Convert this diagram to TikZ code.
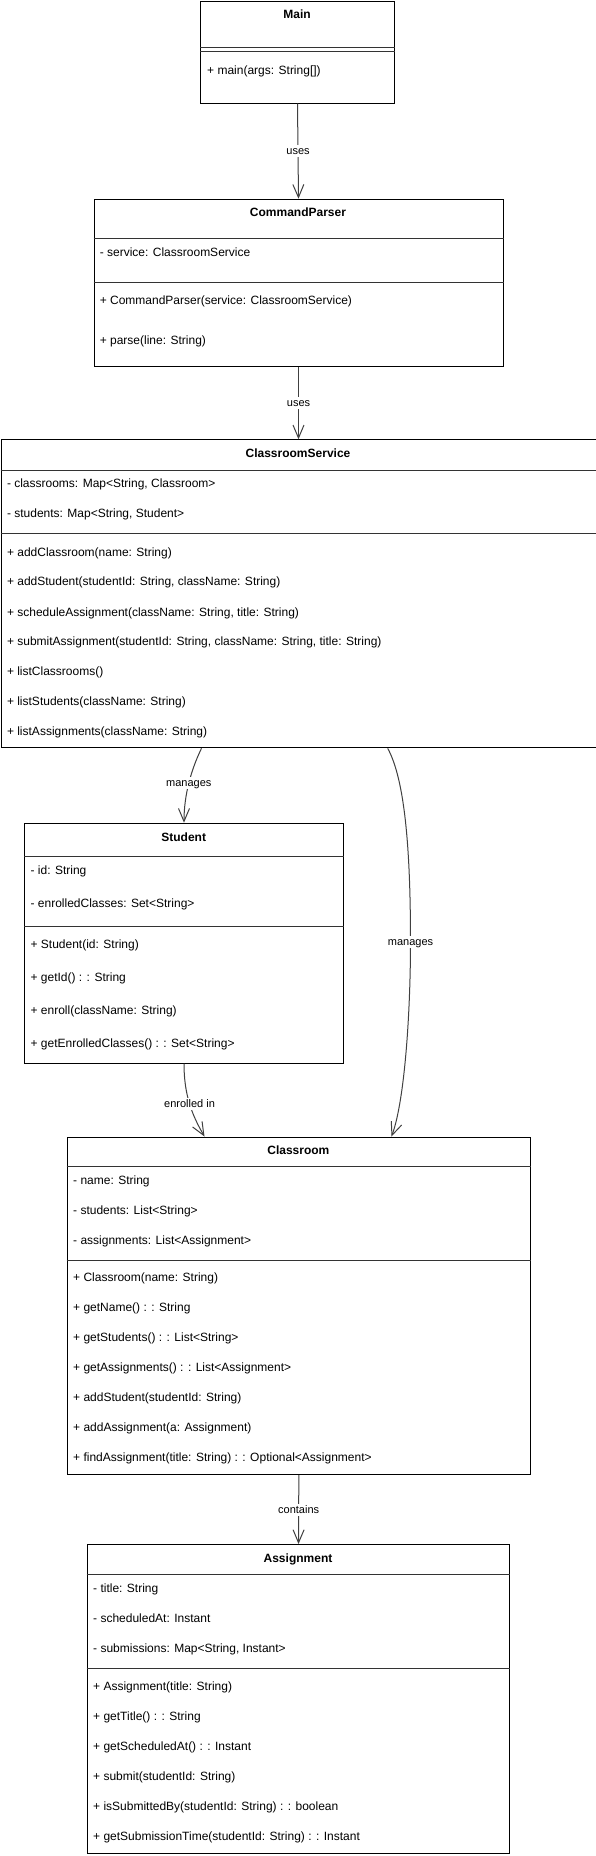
\documentclass[tikz,border=0pt]{standalone}
\usepackage{fontspec}
\setmainfont{Liberation Sans}
\usetikzlibrary{arrows.meta}
\tikzset{
  classbox/.style={draw=black, line width=1pt, fill=white, anchor=north west, inner sep=0pt},
  sepline/.style={draw=black!80, line width=1pt},
  row/.style={anchor=west, inner sep=0pt, text height=10pt, text depth=2pt, font=\fontsize{12}{14}\selectfont},
  ttl/.style={anchor=center, inner sep=0pt, text height=10pt, text depth=2pt, font=\fontsize{12}{14}\selectfont\bfseries},
  conn/.style={draw=black!75, line width=1pt, -{Straight Barb[length=13pt,width=11pt,line width=1pt]}},
  lbl/.style={fill=white, inner sep=1pt, text height=8.5pt, text depth=1.5pt, font=\fontsize{11}{13}\selectfont, text=black}
}
\begin{document}
\begin{tikzpicture}[x=1pt,y=-1pt]
\useasboundingbox (0,0) rectangle (596,1856);
\fill[white] (0,0) rectangle (596,1856);

% ---------- Main ----------
\node[classbox, minimum width=194pt, minimum height=102pt] (main) at (200,0.5) {};
\node[ttl] (mainT) at (297,14.7) {Main};
\draw[sepline] (main.west |- 0,47) -- (main.east |- 0,47);
\draw[sepline] (main.west |- 0,51) -- (main.east |- 0,51);
\node[row] (mainM1) at (207,70) {+ main(args: String[])};

% ---------- CommandParser ----------
\node[classbox, minimum width=409pt, minimum height=167.6pt] (cp) at (93.5,198.7) {};
\node[ttl] (cpT) at (298,212.3) {CommandParser};
\draw[sepline] (cp.west |- 0,238.3) -- (cp.east |- 0,238.3);
\node[row] (cpA1) at (99.6,252.7) {- service: ClassroomService};
\draw[sepline] (cp.west |- 0,282.3) -- (cp.east |- 0,282.3);
\node[row] (cpM1) at (99.6,300.7) {+ CommandParser(service: ClassroomService)};
\node[row] (cpM2) at (99.6,340.7) {+ parse(line: String)};

% ---------- ClassroomService ----------
\node[classbox, minimum width=595pt, minimum height=308pt] (cs) at (0.5,439.3) {};
\node[ttl] (csT) at (298,453.7) {ClassroomService};
\draw[sepline] (cs.west |- 0,470) -- (cs.east |- 0,470);
\node[row] (csA1) at (6.8,483.7) {- classrooms: Map<String, Classroom>};
\node[row] (csA2) at (6.8,513.7) {- students: Map<String, Student>};
\draw[sepline] (cs.west |- 0,533.7) -- (cs.east |- 0,533.7);
\node[row] (csM1) at (6.8,552) {+ addClassroom(name: String)};
\node[row] (csM2) at (6.8,581.7) {+ addStudent(studentId: String, className: String)};
\node[row] (csM3) at (6.8,612) {+ scheduleAssignment(className: String, title: String)};
\node[row] (csM4) at (6.8,641.7) {+ submitAssignment(studentId: String, className: String, title: String)};
\node[row] (csM5) at (6.8,671.7) {+ listClassrooms()};
\node[row] (csM6) at (6.8,701.7) {+ listStudents(className: String)};
\node[row] (csM7) at (6.8,731.7) {+ listAssignments(className: String)};

% ---------- Student ----------
\node[classbox, minimum width=318.9pt, minimum height=240pt] (stu) at (24.3,822.7) {};
\node[ttl] (stuT) at (183.7,837.7) {Student};
\draw[sepline] (stu.west |- 0,856.7) -- (stu.east |- 0,856.7);
\node[row] (stuA1) at (30.4,870.7) {- id: String};
\node[row] (stuA2) at (30.4,903.7) {- enrolledClasses: Set<String>};
\draw[sepline] (stu.west |- 0,926.7) -- (stu.east |- 0,926.7);
\node[row] (stuM1) at (30.4,944.3) {+ Student(id: String)};
\node[row] (stuM2) at (30.4,977.7) {+ getId() : : String};
\node[row] (stuM3) at (30.4,1010.7) {+ enroll(className: String)};
\node[row] (stuM4) at (30.4,1043.3) {+ getEnrolledClasses() : : Set<String>};

% ---------- Classroom ----------
\node[classbox, minimum width=463.7pt, minimum height=337.5pt] (cls) at (66.5,1136.5) {};
\node[ttl] (clsT) at (298.4,1150.7) {Classroom};
\draw[sepline] (cls.west |- 0,1166) -- (cls.east |- 0,1166);
\node[row] (clsA1) at (73,1180) {- name: String};
\node[row] (clsA2) at (73,1210) {- students: List<String>};
\node[row] (clsA3) at (73,1240) {- assignments: List<Assignment>};
\draw[sepline] (cls.west |- 0,1260.3) -- (cls.east |- 0,1260.3);
\node[row] (clsM1) at (73,1277.7) {+ Classroom(name: String)};
\node[row] (clsM2) at (73,1307.7) {+ getName() : : String};
\node[row] (clsM3) at (73,1337.7) {+ getStudents() : : List<String>};
\node[row] (clsM4) at (73,1367.7) {+ getAssignments() : : List<Assignment>};
\node[row] (clsM5) at (73,1397.7) {+ addStudent(studentId: String)};
\node[row] (clsM6) at (73,1427.7) {+ addAssignment(a: Assignment)};
\node[row] (clsM7) at (73,1457.7) {+ findAssignment(title: String) : : Optional<Assignment>};

% ---------- Assignment ----------
\node[classbox, minimum width=422.6pt, minimum height=308.7pt] (asg) at (86.7,1544) {};
\node[ttl] (asgT) at (298,1558.7) {Assignment};
\draw[sepline] (asg.west |- 0,1574.7) -- (asg.east |- 0,1574.7);
\node[row] (asgA1) at (93,1588.7) {- title: String};
\node[row] (asgA2) at (93,1618.7) {- scheduledAt: Instant};
\node[row] (asgA3) at (93,1648.7) {- submissions: Map<String, Instant>};
\draw[sepline] (asg.west |- 0,1668.7) -- (asg.east |- 0,1668.7);
\node[row] (asgM1) at (93,1686.7) {+ Assignment(title: String)};
\node[row] (asgM2) at (93,1716.7) {+ getTitle() : : String};
\node[row] (asgM3) at (93,1746.7) {+ getScheduledAt() : : Instant};
\node[row] (asgM4) at (93,1776.7) {+ submit(studentId: String)};
\node[row] (asgM5) at (93,1806.7) {+ isSubmittedBy(studentId: String) : : boolean};
\node[row] (asgM6) at (93,1836.7) {+ getSubmissionTime(studentId: String) : : Instant};

% ---------- Connectors ----------
\draw[conn] (main.south) -- node[lbl] (l1) {uses} (cp.north);
\draw[conn] (cp.south) -- node[lbl] (l2) {uses} (cs.north);
\draw[conn] ([xshift=201pt]cs.south west) .. controls (191,770) and (184,795) .. node[lbl,pos=0.5] (l3) {manages} ([xshift=159.7pt]stu.north west);
\draw[conn] ([xshift=387.2pt]cs.south west) .. controls (405,780) and (410.5,850) .. (410.5,942)
   node[lbl] (l4) {manages}
   .. controls (410.5,1010) and (405,1100) .. ([xshift=325pt]cls.north west);
\draw[conn] ([xshift=159.7pt]stu.south west) .. controls (184,1095) and (192,1115) .. node[lbl,pos=0.5] (l5) {enrolled in} ([xshift=138pt]cls.north west);
\draw[conn] (cls.south) -- node[lbl] (l6) {contains} (asg.north);
\end{tikzpicture}
\end{document}
